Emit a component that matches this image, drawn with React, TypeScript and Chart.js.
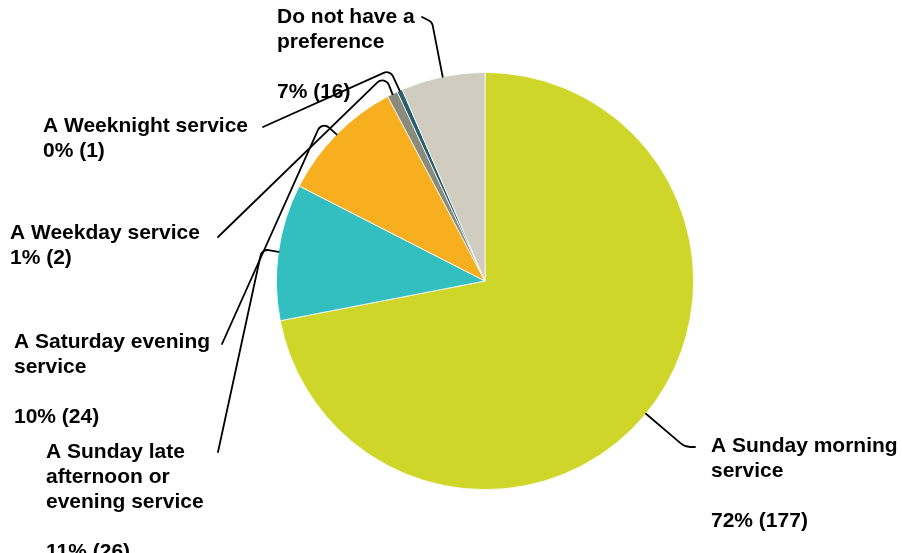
import React, { useEffect, useRef } from "react";
import { Chart, registerables } from "chart.js";

Chart.register(...registerables);

// ---- data ----
const categories = [
  "A Sunday morning service",
  "A Sunday late afternoon or evening service",
  "A Saturday evening service",
  "A Weekday service",
  "A Weeknight service",
  "Do not have a preference",
];
const counts = [177, 26, 24, 2, 1, 16];
const labelLines = [
  ["A Sunday morning", "service"],
  ["A Sunday late", "afternoon or", "evening service"],
  ["A Saturday evening", "service"],
  ["A Weekday service"],
  ["A Weeknight service"],
  ["Do not have a", "preference"],
];
const colors = ["#CED629", "#33BEC0", "#F7AF1F", "#8B8B7C", "#2A5E6E", "#D0CDC0"];

// ---- layout (label text anchor, leader elbow, leader end) ----
const labelPos = [
  { x: 711, y: 452 },
  { x: 46, y: 458 },
  { x: 14, y: 348 },
  { x: 10, y: 239 },
  { x: 43, y: 132 },
  { x: 277, y: 23 },
];
const leaderPath = [
  { ex: 685, ey: 447, tx: 695, ty: 447, curve: true },
  { ex: 262, ey: 249, tx: 218, ty: 452, curve: false },
  { ex: 322, ey: 121, tx: 222, ty: 344, curve: false },
  { ex: 385, ey: 75, tx: 218, ty: 237, curve: false },
  { ex: 390, ey: 70, tx: 263, ty: 127, curve: false },
  { ex: 432, ey: 22, tx: 422, ty: 17, curve: false },
];

const FONT = 'bold 21px "Liberation Sans", Arial, sans-serif';
const LINE_H = 25;

const labelPlugin = {
  id: "outsideLabels",
  afterDraw(chart: any) {
    const ctx = chart.ctx;
    const meta = chart.getDatasetMeta(0);
    const total = counts.reduce((a, b) => a + b, 0);
    ctx.save();
    // leader lines
    ctx.strokeStyle = "#000";
    ctx.lineWidth = 1.8;
    ctx.lineCap = "round";
    ctx.lineJoin = "round";
    meta.data.forEach((arc: any, i: number) => {
      const mid = (arc.startAngle + arc.endAngle) / 2;
      const sx = arc.x + Math.cos(mid) * arc.outerRadius;
      const sy = arc.y + Math.sin(mid) * arc.outerRadius;
      const p = leaderPath[i];
      ctx.beginPath();
      ctx.moveTo(sx, sy);
      if (p.curve) {
        ctx.arcTo(p.ex, p.ey, p.tx, p.ty, 14);
        ctx.lineTo(p.tx, p.ty);
      } else {
        ctx.arcTo(p.ex, p.ey, p.tx, p.ty, 7);
        ctx.lineTo(p.tx, p.ty);
      }
      ctx.stroke();
    });
    // texts
    ctx.fillStyle = "#000";
    ctx.font = FONT;
    ctx.textAlign = "left";
    ctx.textBaseline = "alphabetic";
    labelLines.forEach((lines, i) => {
      const pos = labelPos[i];
      const pct = Math.round((counts[i] / total) * 100);
      const all = [...lines];
      if (lines.length > 1) all.push("");
      all.push(`${pct}% (${counts[i]})`);
      all.forEach((t, k) => {
        if (t) ctx.fillText(t, pos.x, pos.y + k * LINE_H);
      });
    });
    ctx.restore();
  },
};

export default function App() {
  const ref = useRef<HTMLCanvasElement | null>(null);
  useEffect(() => {
    if (!ref.current) return;
    const chart = new Chart(ref.current, {
      type: "pie",
      data: {
        labels: categories,
        datasets: [
          {
            data: counts,
            backgroundColor: colors,
            borderColor: "#FFFFFF",
            borderWidth: 0.8,
          },
        ],
      },
      options: {
        responsive: false,
        animation: false,
        layout: { padding: { left: 276, right: 208, top: 72, bottom: 63 } },
        plugins: {
          legend: { display: false },
          tooltip: { enabled: false },
          title: { display: false },
        },
      },
      plugins: [labelPlugin],
    });
    return () => chart.destroy();
  }, []);
  return (
    <div style={{ position: "fixed", left: 0, top: 0, width: 902, height: 553, background: "#fff" }}>
      <canvas ref={ref} width={902} height={553} style={{ width: 902, height: 553, display: "block" }} />
    </div>
  );
}
